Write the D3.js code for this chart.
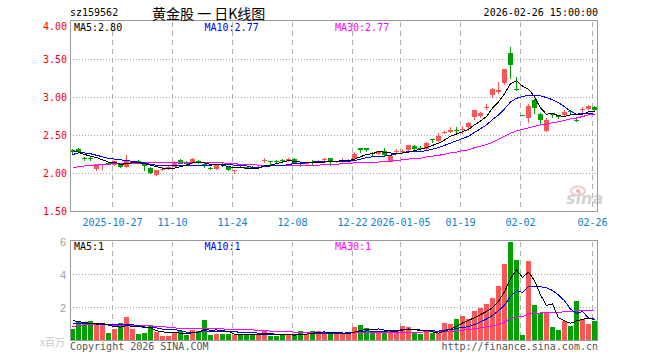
<!DOCTYPE html>
<html><head><meta charset="utf-8">
<script src="https://cdn.jsdelivr.net/npm/d3@7"></script>
<style>
html,body{margin:0;padding:0;background:#fff;}
svg{display:block;}
text{font-family:"DejaVu Sans Mono",monospace;}
</style></head><body>
<svg id="c" width="660" height="360"></svg>
<script>
const dates = [
"2025-10-16","2025-10-17","2025-10-20","2025-10-21","2025-10-22","2025-10-23","2025-10-24","2025-10-27","2025-10-28","2025-10-29","2025-10-30","2025-10-31",
"2025-11-03","2025-11-04","2025-11-05","2025-11-06","2025-11-07","2025-11-10","2025-11-11","2025-11-12","2025-11-13","2025-11-14","2025-11-17","2025-11-18","2025-11-19","2025-11-20","2025-11-21","2025-11-24","2025-11-25","2025-11-26","2025-11-27","2025-11-28",
"2025-12-01","2025-12-02","2025-12-03","2025-12-04","2025-12-05","2025-12-08","2025-12-09","2025-12-10","2025-12-11","2025-12-12","2025-12-15","2025-12-16","2025-12-17","2025-12-18","2025-12-19","2025-12-22","2025-12-23","2025-12-24","2025-12-25","2025-12-26","2025-12-29","2025-12-30","2025-12-31",
"2026-01-05","2026-01-06","2026-01-07","2026-01-08","2026-01-09","2026-01-12","2026-01-13","2026-01-14","2026-01-15","2026-01-16","2026-01-19","2026-01-20","2026-01-21","2026-01-22","2026-01-23","2026-01-26","2026-01-27","2026-01-28","2026-01-29","2026-01-30",
"2026-02-02","2026-02-03","2026-02-04","2026-02-05","2026-02-06","2026-02-09","2026-02-10","2026-02-11","2026-02-12","2026-02-13","2026-02-24","2026-02-25","2026-02-26"];

const openP = [2.31,2.32,2.21,2.21,2.06,2.11,2.14,2.11,2.12,2.08, 2.14,2.17,2.13,2.07,1.98,2.05,2.06,2.09,2.18,2.15, 2.14,2.16,2.12,2.07,2.06,2.13,2.08,2.04,2.09,2.08, 2.09,2.08,2.16,2.16,2.16,2.18,2.16,2.19,2.14,2.12, 2.15,2.16,2.18,2.20,2.15,2.15,2.15,2.19,2.33,2.33, 2.27,2.26,2.30,2.17,2.28,2.28,2.31,2.36,2.33,2.32, 2.45,2.43,2.53,2.55,2.57,2.57,2.61,2.74,2.76,2.87, 3.03,3.07,3.19,3.58,3.11,2.77,2.73,2.97,2.78,2.56, 2.79,2.76,2.77,2.82,2.71,2.83,2.85,2.88];
const highP = [2.32,2.33,2.22,2.22,2.13,2.13,2.15,2.17,2.14,2.25, 2.16,2.18,2.14,2.08,2.05,2.08,2.10,2.16,2.19,2.16, 2.20,2.18,2.14,2.09,2.13,2.14,2.09,2.05,2.10,2.09, 2.10,2.11,2.20,2.16,2.18,2.19,2.20,2.20,2.15,2.15, 2.18,2.18,2.21,2.21,2.17,2.20,2.19,2.28,2.34,2.33, 2.28,2.30,2.33,2.24,2.32,2.32,2.38,2.37,2.36,2.41, 2.46,2.53,2.56,2.61,2.61,2.62,2.68,2.84,2.81,2.91, 3.13,3.21,3.38,3.66,3.27,2.77,2.91,2.98,2.79,2.73, 2.79,2.77,2.83,2.84,2.72,2.87,2.90,2.89];
const lowP = [2.24,2.27,2.16,2.17,2.03,2.05,2.12,2.10,2.07,2.07, 2.13,2.13,2.03,2.00,1.97,2.03,2.05,2.08,2.12,2.11, 2.13,2.12,2.07,2.04,2.05,2.09,2.03,2.00,2.07,2.06, 2.06,2.07,2.14,2.11,2.13,2.14,2.15,2.13,2.08,2.11, 2.11,2.14,2.17,2.10,2.14,2.14,2.14,2.18,2.27,2.28, 2.22,2.25,2.22,2.16,2.27,2.26,2.30,2.29,2.30,2.31, 2.40,2.42,2.52,2.53,2.52,2.52,2.56,2.70,2.73,2.84, 2.99,3.05,3.16,3.25,3.09,2.76,2.67,2.78,2.65,2.55, 2.73,2.72,2.74,2.78,2.68,2.80,2.83,2.82];
const closeP = [2.28,2.28,2.19,2.20,2.12,2.12,2.13,2.16,2.08,2.16, 2.15,2.14,2.10,2.01,2.04,2.06,2.09,2.15,2.13,2.12, 2.19,2.14,2.11,2.06,2.12,2.11,2.04,2.05,2.08,2.06, 2.07,2.09,2.18,2.15,2.15,2.17,2.19,2.14,2.12,2.14, 2.14,2.17,2.19,2.15,2.16,2.18,2.18,2.26,2.31,2.31, 2.26,2.29,2.24,2.23,2.29,2.29,2.37,2.32,2.32,2.40, 2.44,2.50,2.54,2.57,2.56,2.59,2.67,2.83,2.79,2.88, 3.11,3.10,3.37,3.43,3.10,2.76,2.89,2.86,2.71,2.70, 2.77,2.75,2.81,2.81,2.70,2.85,2.89,2.83];
const volume = [0.70,1.10,1.10,1.18,0.94,0.94,0.47,0.68,1.04,1.44, 0.68,0.38,0.47,0.94,0.53,0.29,0.29,0.47,0.60,0.33, 0.64,0.55,1.24,0.35,0.42,0.40,0.40,0.33,0.33,0.33, 0.33,0.39,0.64,0.30,0.30,0.33,0.33,0.33,0.58,0.40, 0.58,0.58,0.44,0.40,0.44,0.44,0.39,0.82,0.94,0.74, 0.47,0.53,0.47,0.64,0.64,0.88,0.82,0.44,0.39,0.53, 0.44,0.44,1.06,1.00,1.30,1.48,1.30,1.79,1.99,2.23, 2.58,3.30,4.66,6.00,4.88,0.33,4.82,2.15,1.65,1.65, 0.82,0.64,1.20,0.88,2.39,1.32,1.00,1.18];

const ma5 = [2.30,2.28,2.25,2.23,2.21,2.18,2.15,2.15,2.12,2.13, 2.14,2.14,2.13,2.11,2.09,2.07,2.06,2.07,2.09,2.11, 2.14,2.15,2.14,2.12,2.12,2.11,2.09,2.08,2.08,2.07, 2.06,2.07,2.10,2.11,2.13,2.15,2.17,2.16,2.15,2.15, 2.15,2.14,2.15,2.16,2.16,2.17,2.17,2.19,2.22,2.25, 2.26,2.29,2.28,2.27,2.26,2.27,2.28,2.30,2.32,2.34, 2.37,2.40,2.44,2.49,2.52,2.55,2.58,2.64,2.69,2.75, 2.86,2.94,3.05,3.18,3.22,3.15,3.11,3.01,2.86,2.78, 2.79,2.76,2.75,2.77,2.77,2.78,2.81,2.81];
const ma10 = [2.25,2.27,2.27,2.26,2.24,2.22,2.20,2.19,2.18,2.17, 2.16,2.15,2.14,2.12,2.11,2.10,2.10,2.10,2.10,2.10, 2.10,2.10,2.10,2.11,2.12,2.12,2.12,2.11,2.10,2.10, 2.08,2.08,2.09,2.10,2.10,2.10,2.12,2.13,2.13,2.14, 2.15,2.16,2.16,2.16,2.16,2.16,2.16,2.17,2.19,2.21, 2.22,2.23,2.23,2.24,2.26,2.27,2.29,2.29,2.29,2.30, 2.32,2.34,2.37,2.40,2.43,2.46,2.49,2.54,2.59,2.64, 2.71,2.77,2.85,2.94,2.99,3.01,3.03,3.03,3.02,3.00, 2.97,2.93,2.88,2.82,2.78,2.79,2.79,2.78];
const ma30 = [2.07,2.09,2.10,2.11,2.11,2.12,2.12,2.13,2.13,2.13, 2.13,2.13,2.14,2.14,2.14,2.15,2.15,2.15,2.15,2.15, 2.15,2.15,2.15,2.15,2.15,2.14,2.13,2.13,2.12,2.12, 2.12,2.11,2.11,2.11,2.11,2.11,2.11,2.11,2.11,2.11, 2.11,2.11,2.12,2.12,2.12,2.13,2.13,2.14,2.14,2.15, 2.15,2.15,2.16,2.16,2.17,2.18,2.19,2.20,2.20,2.22, 2.23,2.24,2.25,2.27,2.28,2.30,2.31,2.34,2.36,2.38, 2.41,2.45,2.49,2.53,2.56,2.58,2.60,2.62,2.64,2.65, 2.67,2.68,2.70,2.72,2.73,2.75,2.77,2.78];
const vma5 = [1.20,1.15,1.08,1.05,1.00,1.05,0.93,0.84,0.81,0.91, 0.86,0.84,0.80,0.78,0.60,0.52,0.50,0.50,0.44,0.40, 0.47,0.52,0.67,0.62,0.64,0.59,0.56,0.38,0.38,0.36, 0.34,0.34,0.40,0.40,0.39,0.39,0.38,0.32,0.37,0.39, 0.44,0.49,0.52,0.48,0.49,0.46,0.42,0.50,0.61,0.67, 0.67,0.70,0.63,0.57,0.55,0.63,0.69,0.68,0.63,0.61, 0.52,0.45,0.57,0.69,0.85,1.06,1.23,1.37,1.57,1.76, 1.98,2.38,2.95,3.75,4.28,3.83,4.14,3.64,2.77,2.12, 2.22,1.38,1.19,1.04,1.19,1.29,1.36,1.35];
const vma10 = [1.05,1.05,1.04,1.02,1.00,0.98,0.96,0.96,0.95,0.96, 0.96,0.89,0.82,0.80,0.76,0.69,0.67,0.65,0.61,0.50, 0.49,0.51,0.59,0.53,0.52,0.53,0.54,0.53,0.50,0.50, 0.47,0.45,0.39,0.39,0.38,0.37,0.36,0.36,0.39,0.39, 0.42,0.44,0.42,0.43,0.44,0.45,0.46,0.51,0.54,0.58, 0.57,0.56,0.56,0.59,0.61,0.65,0.70,0.66,0.60,0.58, 0.58,0.57,0.63,0.66,0.73,0.79,0.84,0.97,1.13,1.30, 1.52,1.80,2.16,2.66,3.02,2.91,3.26,3.29,3.26,3.20, 3.03,2.76,2.41,1.90,1.65,1.75,1.37,1.27];
const vma30 = [0.85,0.90,0.95,0.95,0.95,0.95,0.94,0.93,0.93,0.92, 0.92,0.90,0.90,0.88,0.86,0.84,0.80,0.76,0.75,0.74, 0.74,0.74,0.74,0.72,0.72,0.70,0.68,0.67,0.66,0.65, 0.64,0.62,0.60,0.57,0.55,0.53,0.53,0.51,0.50,0.46, 0.46,0.47,0.47,0.45,0.44,0.45,0.45,0.46,0.48,0.49, 0.48,0.48,0.46,0.47,0.47,0.49,0.50,0.51,0.51,0.52, 0.52,0.52,0.54,0.56,0.59,0.63,0.66,0.71,0.76,0.82, 0.89,0.98,1.12,1.31,1.45,1.45,1.60,1.64,1.67,1.70, 1.71,1.71,1.74,1.74,1.80,1.82,1.82,1.85];

const priceTicks = [1.5, 2.0, 2.5, 3.0, 3.5, 4.0];
const volTicks = [2, 4, 6];
const dateTicks = ["2025-10-27","2025-11-10","2025-11-24","2025-12-08","2025-12-22","2026-01-05","2026-01-19","2026-02-02","2026-02-26"];
const dateLabels = ["2025-10-27","11-10","11-24","12-08","12-22","2026-01-05","01-19","02-02","02-26"];
const legendPrice = [["MA5:2.80","#000"],["MA10:2.77","#0000ff"],["MA30:2.77","#ff00ff"]];
const legendVol = [["MA5:1","#000"],["MA10:1","#0000ff"],["MA30:1","#ff00ff"]];

const UP = "#ff5555", DOWN = "#00a000";
const svg = d3.select("#c");
const L = 70, R = 597, PT = 21, PB = 211, VT = 241, VB = 340;

const x = d3.scaleBand().domain(dates).range([L, R]).paddingInner(1/6).paddingOuter(0).align(0);
const bw = x.bandwidth();
const cx = d => x(d) + 2.5;
const y = d3.scaleLinear().domain([1.5, 4]).range([PB + 0.5, PT + 0.5]);
const vy = d3.scaleLinear().domain([0, 6]).range([VB + 0.5, VT + 0.5]);

function grid(top, bottom, yScale, ticks) {
  const g = svg.append("g").attr("shape-rendering", "crispEdges");
  g.selectAll("line.h").data(ticks).enter().append("line")
    .attr("x1", L).attr("x2", R).attr("y1", d => Math.round(yScale(d) - 0.5) + 0.5).attr("y2", d => Math.round(yScale(d) - 0.5) + 0.5)
    .attr("stroke", "#a8a8a8").attr("stroke-dasharray", "1,2");
  g.selectAll("line.v").data(dateTicks).enter().append("line")
    .attr("x1", d => x(d) + 0.5).attr("x2", d => x(d) + 0.5).attr("y1", top).attr("y2", bottom)
    .attr("stroke", "#b0b0b0").attr("stroke-dasharray", "5,4");
}
grid(PT + 0.5, PB, y, [2.0, 2.5, 3.0, 3.5]);
grid(VT + 0.5, VB, vy, [2, 4]);

const idx = d3.range(dates.length);
const col = i => closeP[i] >= openP[i] ? UP : DOWN;

const cg = svg.append("g").attr("shape-rendering", "crispEdges");
cg.selectAll("line.w").data(idx).enter().append("line")
  .attr("x1", i => cx(dates[i])).attr("x2", i => cx(dates[i]))
  .attr("y1", i => y(highP[i])).attr("y2", i => y(lowP[i]))
  .attr("stroke", col);
cg.selectAll("rect").data(idx).enter().append("rect")
  .attr("x", i => x(dates[i])).attr("width", bw)
  .attr("y", i => y(Math.max(openP[i], closeP[i])))
  .attr("height", i => Math.max(1, Math.abs(y(openP[i]) - y(closeP[i]))))
  .attr("fill", col);

const vg = svg.append("g").attr("shape-rendering", "crispEdges");
vg.selectAll("rect").data(idx).enter().append("rect")
  .attr("x", i => x(dates[i])).attr("width", bw)
  .attr("y", i => vy(volume[i])).attr("height", i => vy(0) - vy(volume[i]))
  .attr("fill", col);

function maLine(arr, scale, color) {
  const line = d3.line().x((d, i) => cx(dates[i])).y(d => scale(d));
  svg.append("path").datum(arr).attr("d", line).attr("fill", "none")
    .attr("stroke", color).attr("stroke-width", 1).attr("shape-rendering", "crispEdges");
}
maLine(ma30, y, "#ff00ff"); maLine(ma10, y, "#0000ff"); maLine(ma5, y, "#000");
maLine(vma30, vy, "#ff00ff"); maLine(vma10, vy, "#0000ff"); maLine(vma5, vy, "#000");

function box(top, bottom) {
  svg.append("rect").attr("x", L + 0.5).attr("y", top + 0.5).attr("width", R - L).attr("height", bottom - top)
    .attr("fill", "none").attr("stroke", "#999").attr("shape-rendering", "crispEdges");
}
box(PT - 1, PB); box(VT - 1, VB);

svg.append("g").selectAll("text").data(priceTicks).enter().append("text")
  .attr("x", 67).attr("y", d => d === 4 ? y(d) + 5 : y(d))
  .attr("dominant-baseline", "central").attr("text-anchor", "end")
  .attr("font-size", 10).attr("fill", "#ff0000").text(d => d.toFixed(2));
svg.append("g").selectAll("text").data(volTicks).enter().append("text")
  .attr("x", 66).attr("y", d => vy(d))
  .attr("dominant-baseline", "central").attr("text-anchor", "end")
  .style("font-family", "'Liberation Sans',Arial,sans-serif")
  .attr("font-size", 11).attr("fill", "#a0a0a0").text(d => d);
svg.append("text").attr("x", 65).attr("y", 341).attr("dominant-baseline", "central").attr("text-anchor", "end")
  .style("font-family", "'Noto Sans CJK SC',sans-serif").attr("font-size", 10).attr("fill", "#c8c8c8").text("x百万");

svg.append("g").selectAll("text").data(dateTicks).enter().append("text")
  .attr("x", d => x(d) + 0.5).attr("y", 222).attr("dominant-baseline", "central").attr("text-anchor", "middle")
  .attr("font-size", 10).attr("fill", "#0a7fd0").text((d, i) => dateLabels[i]);

svg.append("g").selectAll("text").data(legendPrice).enter().append("text")
  .attr("x", (d, i) => 74 + i * 130.5).attr("y", 27).attr("dominant-baseline", "central")
  .attr("font-size", 10).attr("fill", d => d[1]).text(d => d[0]);
svg.append("g").selectAll("text").data(legendVol).enter().append("text")
  .attr("x", (d, i) => 74 + i * 130.5).attr("y", 246.5).attr("dominant-baseline", "central")
  .attr("font-size", 10).attr("fill", d => d[1]).text(d => d[0]);

svg.append("text").attr("x", 70).attr("y", 12.5).attr("dominant-baseline", "central")
  .attr("font-size", 10).attr("fill", "#000").text("sz159562");
svg.append("text").attr("x", 152).attr("y", 12.5).attr("dominant-baseline", "central")
  .style("font-family", "'Noto Sans CJK SC',sans-serif").attr("font-size", 14).attr("fill", "#000").text("黄金股 一 日K线图");
svg.append("text").attr("x", 598).attr("y", 12.5).attr("dominant-baseline", "central").attr("text-anchor", "end")
  .attr("font-size", 10).attr("fill", "#000").text("2026-02-26 15:00:00");

svg.append("text").attr("x", 70).attr("y", 346).attr("dominant-baseline", "central")
  .attr("font-size", 10).attr("fill", "#555").text("Copyright 2026 SINA.COM");
svg.append("text").attr("x", 598).attr("y", 346).attr("dominant-baseline", "central").attr("text-anchor", "end")
  .attr("font-size", 10).attr("fill", "#555").text("http://finance.sina.com.cn");

const wm = svg.append("g").attr("opacity", 0.55);
wm.append("ellipse").attr("cx", 578).attr("cy", 191).attr("rx", 7).attr("ry", 4.5).attr("fill", "none").attr("stroke", "#e89a9a").attr("stroke-width", 2);
wm.append("circle").attr("cx", 578).attr("cy", 191).attr("r", 2).attr("fill", "#e07070");
wm.append("text").attr("x", 566).attr("y", 204).style("font-family", "'DejaVu Sans',sans-serif")
  .attr("font-size", 16).attr("font-weight", "bold").attr("font-style", "italic").attr("fill", "#b0b0b0").text("sina");
</script>
</body></html>
